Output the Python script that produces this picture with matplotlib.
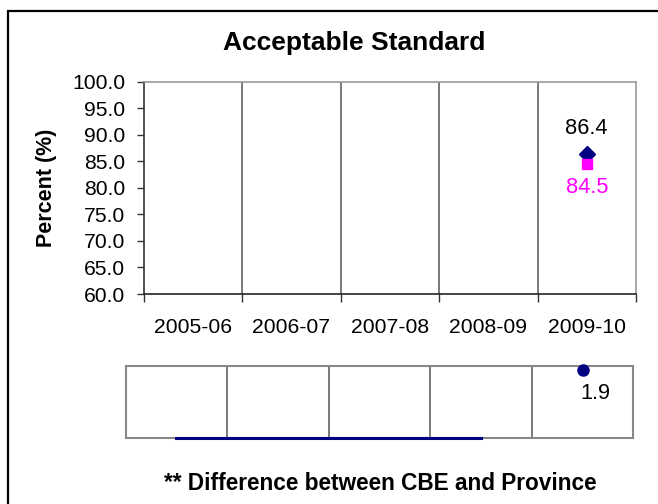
import matplotlib
matplotlib.use("Agg")
import matplotlib.pyplot as plt
from matplotlib.patches import Rectangle
import numpy as np

plt.rcParams['font.family'] = ['Liberation Sans', 'DejaVu Sans']

categories = ["2005-06", "2006-07", "2007-08", "2008-09", "2009-10"]
cbe_values = [None, None, None, None, 86.4]
province_values = [None, None, None, None, 84.5]
diff_line_values = [0, 0, 0, 0]
diff_point_values = [None, None, None, None, 1.9]
y_ticks = [60.0, 65.0, 70.0, 75.0, 80.0, 85.0, 90.0, 95.0, 100.0]

fig = plt.figure(figsize=(6.58, 5.04), dpi=100)

# outer border
fig.patches.append(Rectangle((8/658, -0.05), 1.1, 1 - 11/504 + 0.05, transform=fig.transFigure,
                             fill=False, edgecolor='black', linewidth=1.6, zorder=0))

n = len(categories)
x = np.arange(n)
FS = 15.2

ax = fig.add_axes([143.5/658, 1 - 294/504, (636 - 143.5)/658, (294 - 81.5)/504])
ax.set_xlim(-0.5, n - 0.5)
ax.set_ylim(60, 100)
ax.set_yticks(y_ticks)
ax.set_yticklabels([f"{v:.1f}" for v in y_ticks], fontsize=FS)
ax.set_xticks(np.arange(n + 1) - 0.5)
ax.set_xticklabels([])
ax.set_xticks(x, minor=True)
ax.set_xticklabels(categories, minor=True, fontsize=FS)
ax.tick_params(axis='x', which='minor', length=0, pad=17)
ax.tick_params(axis='x', which='major', length=6, width=1, color='#333333', direction='out')
ax.tick_params(axis='y', length=5, width=1, color='#333333', direction='out', pad=8)
for b in np.arange(1, n):
    ax.axvline(b - 0.5, color='#555555', linewidth=1.1, zorder=1)
ax.spines['left'].set_color('#333333')
ax.spines['bottom'].set_color('#222222')
ax.spines['top'].set_color('#999999')
ax.spines['right'].set_color('#999999')
for s in ax.spines.values():
    s.set_linewidth(1.2)

for i, v in enumerate(cbe_values):
    if v is not None:
        ax.plot([i], [v], marker='D', color='#000080', markersize=8, linestyle='none', zorder=3)
        ax.annotate(f"{v:.1f}", (i, v), xytext=(0, 25), textcoords='offset pixels',
                    ha='center', va='center', fontsize=FS + 0.5, color='black')
for i, v in enumerate(province_values):
    if v is not None:
        ax.plot([i], [v], marker='s', color='#FF00FF', markersize=7.5, linestyle='none', zorder=4)
        ax.annotate(f"{v:.1f}", (i, v), xytext=(0, -24), textcoords='offset pixels',
                    ha='center', va='center', fontsize=FS + 0.5, color='#FF00FF')

ax.set_ylabel("Percent (%)", fontsize=15.5, fontweight='bold')
ax.yaxis.set_label_coords(-(143.5 - 57) / (636 - 143.5), 0.5)
fig.text(354/658, 1 - 43/504, "Acceptable Standard", fontsize=19, fontweight='bold',
         ha='center', va='center')

# lower difference panel
ax2 = fig.add_axes([125.7/658, 1 - 438/504, (633.3 - 125.7)/658, (438 - 366)/504])
ax2.set_xlim(-0.5, n - 0.5)
ax2.set_ylim(0, 2)
ax2.set_xticks([])
ax2.set_yticks([])
for b in np.arange(1, n):
    ax2.axvline(b - 0.5, color='#555555', linewidth=1.1, zorder=1)
for s in ax2.spines.values():
    s.set_color('#888888')
    s.set_linewidth(1.5)
ax2.plot(np.arange(len(diff_line_values)), diff_line_values, color='#000080', linewidth=2.2,
         zorder=3, clip_on=False)
for i, v in enumerate(diff_point_values):
    if v is not None:
        ax2.plot([i], [v], marker='o', color='#000080', markersize=8, linestyle='none',
                 zorder=4, clip_on=False)
        ax2.annotate(f"{v:.1f}", (i, v), xytext=(13, -24), textcoords='offset pixels',
                     ha='center', va='center', fontsize=FS + 0.5, color='black')

fig.text(380/658, 1 - 484/504, "** Difference between CBE and Province", fontsize=16.3,
         fontweight='bold', ha='center', va='center')

fig.savefig("out.png", dpi=100)
